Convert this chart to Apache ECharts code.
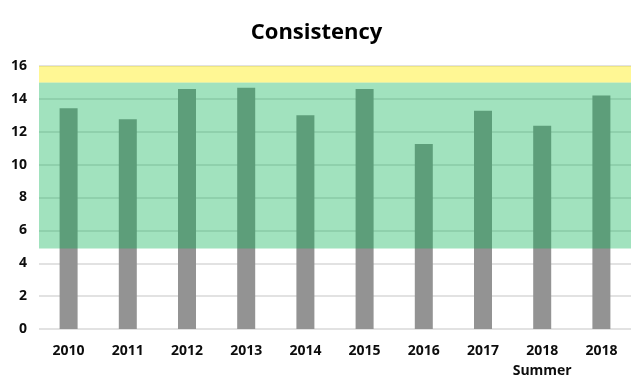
<!DOCTYPE html>
<html><head><meta charset="utf-8">
<script src="https://cdn.jsdelivr.net/npm/echarts@6/dist/echarts.min.js"></script>
<style>html,body{margin:0;padding:0;background:#fff}#c{width:633px;height:382px}</style>
</head><body><div id="c"></div>
<script>
const categories = ['2010','2011','2012','2013','2014','2015','2016','2017','2018\nSummer','2018'];
const values = [13.43, 12.76, 14.6, 14.67, 13.0, 14.6, 11.26, 13.28, 12.36, 14.2];
const greenBand = [4.9, 15];
const yellowBand = [15, 16];
const yTicks = {min: 0, max: 16, interval: 2};

const font = '"Open Sans", sans-serif';
const chart = echarts.init(document.getElementById('c'), null, {renderer: 'canvas'});
chart.setOption({
  animation: false,
  title: {
    text: 'Consistency', left: 'center', top: 17,
    textStyle: {fontFamily: font, fontSize: 22, fontWeight: 'bold', color: '#000'}
  },
  grid: {left: 39, right: 2, top: 66, bottom: 53},
  xAxis: {
    type: 'category', data: categories,
    axisLine: {show: false}, axisTick: {show: false},
    axisLabel: {fontFamily: font, fontSize: 14, fontWeight: 'bold', color: '#0d0d0d', margin: 12, lineHeight: 20, interval: 0}
  },
  yAxis: {
    type: 'value', min: yTicks.min, max: yTicks.max, interval: yTicks.interval,
    axisLine: {show: false}, axisTick: {show: false},
    axisLabel: {fontFamily: font, fontSize: 14, fontWeight: 'bold', color: '#0d0d0d', margin: 12},
    splitLine: {lineStyle: {color: '#d9d9d9', width: 1.5}}
  },
  series: [
    {
      type: 'bar', data: values, barWidth: 18, z: 2,
      itemStyle: {color: '#939393'}
    },
    {
      type: 'line', data: [], z: 10, silent: true,
      markArea: {
        silent: true, z: 10,
        data: [
          [{yAxis: greenBand[0], itemStyle: {color: 'rgba(0,176,80,0.37)'}}, {yAxis: greenBand[1]}],
          [{yAxis: yellowBand[0], itemStyle: {color: 'rgba(255,235,0,0.42)'}}, {yAxis: yellowBand[1]}]
        ]
      }
    }
  ]
});
</script></body></html>
